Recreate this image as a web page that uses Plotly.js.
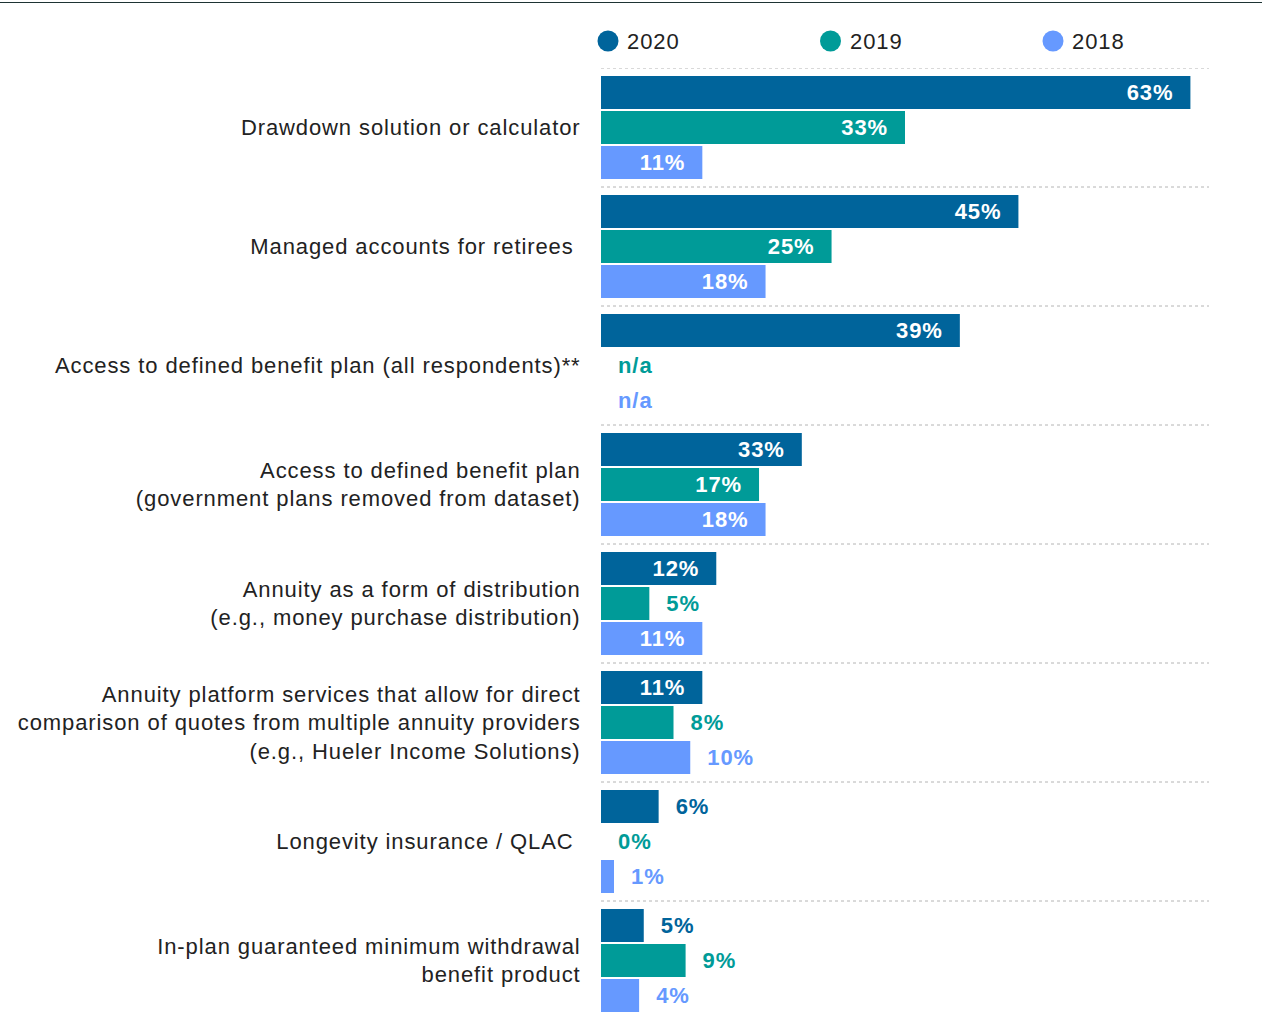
<!DOCTYPE html>
<html>
<head>
<meta charset="utf-8">
<script src="https://cdn.plot.ly/plotly-3.0.1.min.js"></script>
<style>
  html, body { margin: 0; padding: 0; background: #ffffff; overflow: hidden; }
  #chart { width: 1262px; height: 1020px; }
  svg text { letter-spacing: 0.9px; }
</style>
</head>
<body>
<div id="chart"></div>
<script>
// ---- Data ----
var categories = [
  "Drawdown solution or calculator",
  "Managed accounts for retirees\u00a0",
  "Access to defined benefit plan (all respondents)**",
  "Access to defined benefit plan<br>(government plans removed from dataset)",
  "Annuity as a form of distribution<br>(e.g., money purchase distribution)",
  "Annuity platform services that allow for direct<br>comparison of quotes from multiple annuity providers<br>(e.g., Hueler Income Solutions)",
  "Longevity insurance / QLAC\u00a0",
  "In-plan guaranteed minimum withdrawal<br>benefit product"
];
var seriesNames = ["2020", "2019", "2018"];

// printed percentages (null = n/a)
var labels2020 = [63, 45, 39, 33, 12, 11, 6, 5];
var labels2019 = [33, 25, null, 17, 5, 8, 0, 9];
var labels2018 = [11, 18, null, 18, 11, 10, 1, 4];

// bar lengths as drawn in the picture (the 2020 "33%" bar is drawn at ~22%)
var bars2020 = [63.4, 44.9, 38.6, 21.6, 12.4, 10.9, 6.2, 4.6];
var bars2019 = [32.7, 24.8, null, 17.0, 5.2, 7.8, 0, 9.1];
var bars2018 = [10.9, 17.7, null, 17.7, 10.9, 9.6, 1.4, 4.1];

var colors = ["#00649b", "#009b98", "#6699ff"];

// ---- Build traces ----
var FONT = "Liberation Sans, Arial, sans-serif";
var NB = "\u00a0\u00a0";
function makeBar(name, bars, labs, color) {
  var x = bars.map(function (v) { return v === null ? 0 : v; });
  var pos = labs.map(function (v) { return (v !== null && v >= 11) ? "inside" : "outside"; });
  var txt = labs.map(function (v, i) {
    var s = v === null ? "n/a" : v + "%";
    return pos[i] === "inside" ? s + NB : NB + s;
  });
  return {
    type: "bar", orientation: "h", name: name,
    y: categories, x: x,
    text: txt, textposition: pos,
    insidetextanchor: "end",
    constraintext: "none",
    cliponaxis: false,
    insidetextfont: { family: FONT, size: 22, color: "#ffffff", weight: "bold" },
    outsidetextfont: { family: FONT, size: 22, color: color, weight: "bold" },
    textfont: { family: FONT, size: 22, weight: "bold" },
    marker: { color: color, line: { width: 0 } },
    showlegend: false,
    hoverinfo: "skip"
  };
}

var data = [
  makeBar(seriesNames[0], bars2020, labels2020, colors[0]),
  makeBar(seriesNames[1], bars2019, labels2019, colors[1]),
  makeBar(seriesNames[2], bars2018, labels2018, colors[2])
];

// ---- Layout helpers (pixel -> paper) ----
var W = 1262, H = 1020, ML = 601, MR = 53, MT = 68, MB = 0;
var PW = W - ML - MR, PH = H - MT - MB;
function px(xp) { return (xp - ML) / PW; }
function py(yp) { return (H - MB - yp) / PH; }

var shapes = [];
for (var i = 0; i <= categories.length; i++) {
  shapes.push({
    type: "line", xref: "paper", x0: 0, x1: 1, yref: "y", y0: i - 0.5, y1: i - 0.5,
    line: { color: "#b4b4b4", width: 1, dash: "dot" }
  });
}
shapes.push({
  type: "line", xref: "paper", x0: px(0), x1: px(W), yref: "paper", y0: py(2.5), y1: py(2.5),
  line: { color: "#1e3434", width: 1 }
});

// custom legend (large circles)
var annotations = [];
var legendY = 41, legendR = 10.5;
seriesNames.forEach(function (name, k) {
  var cx = 608 + k * 222.5;
  shapes.push({
    type: "circle", xref: "paper", yref: "paper",
    x0: px(cx - legendR), x1: px(cx + legendR),
    y0: py(legendY + legendR), y1: py(legendY - legendR),
    fillcolor: colors[k], line: { width: 0 }
  });
  annotations.push({
    xref: "paper", yref: "paper", x: px(cx + 17), y: py(legendY),
    xanchor: "left", yanchor: "middle", showarrow: false,
    text: name, font: { family: FONT, size: 22, color: "#222222" }
  });
});

var layout = {
  width: W, height: H,
  margin: { l: ML, r: MR, t: MT, b: MB, autoexpand: false },
  paper_bgcolor: "#ffffff", plot_bgcolor: "#ffffff",
  barmode: "group",
  bargap: 0.118,
  bargroupgap: 0.057,
  font: { family: FONT, size: 22, color: "#222222" },
  xaxis: { range: [0, 65.4], visible: false, showgrid: false, zeroline: false, fixedrange: true },
  yaxis: {
    type: "category", categoryorder: "array", categoryarray: categories,
    range: [categories.length - 0.5, -0.5],
    showgrid: false, zeroline: false, showline: false,
    ticks: "outside", ticklen: 15, tickcolor: "rgba(0,0,0,0)",
    tickfont: { family: FONT, size: 22, color: "#222222" },
    automargin: false, fixedrange: true
  },
  shapes: shapes,
  annotations: annotations,
  showlegend: false
};

Plotly.newPlot("chart", data, layout, { displayModeBar: false, staticPlot: true });
</script>
</body>
</html>
